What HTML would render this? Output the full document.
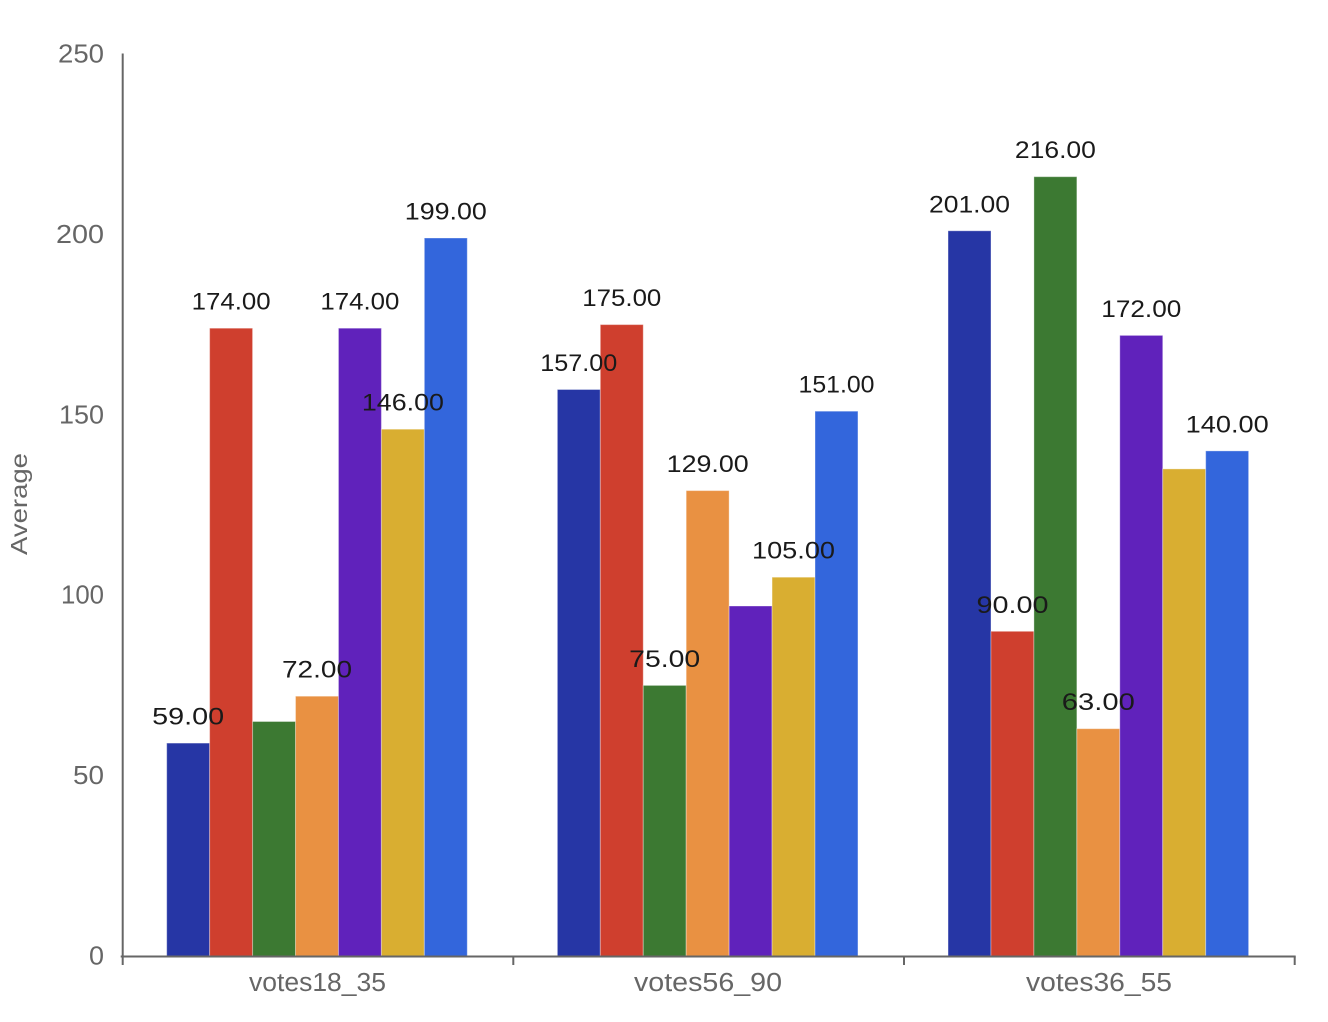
<!DOCTYPE html>
<html><head><meta charset="utf-8"><style>
html,body{margin:0;padding:0;background:#fff;}
svg{display:block;}
.v{font-family:"Liberation Sans",sans-serif;font-size:24px;fill:#1a1a1a;text-anchor:middle;}
.t{font-family:"Liberation Sans",sans-serif;font-size:25.5px;fill:#666;text-anchor:end;}
.c{font-family:"Liberation Sans",sans-serif;font-size:25.5px;fill:#666;text-anchor:middle;}
</style></head><body>
<svg width="1328" height="1022" viewBox="0 0 1328 1022" xmlns="http://www.w3.org/2000/svg">
<rect width="1328" height="1022" fill="#fff"/>
<g stroke="rgba(255,255,255,0.35)" stroke-width="1">
<rect x="166.7" y="743.1" width="42.94" height="212.9" fill="#2636a5"/>
<rect x="209.64" y="328.2" width="42.94" height="627.8" fill="#cf3f2e"/>
<rect x="252.58" y="721.5" width="42.94" height="234.5" fill="#3c7932"/>
<rect x="295.52" y="696.2" width="42.94" height="259.8" fill="#e99142"/>
<rect x="338.46" y="328.2" width="42.94" height="627.8" fill="#6022bb"/>
<rect x="381.4" y="429.2" width="42.94" height="526.8" fill="#d9ae31"/>
<rect x="424.34" y="238.0" width="42.94" height="718.0" fill="#3366dc"/>
<rect x="557.37" y="389.5" width="42.94" height="566.5" fill="#2636a5"/>
<rect x="600.31" y="324.6" width="42.94" height="631.4" fill="#cf3f2e"/>
<rect x="643.25" y="685.4" width="42.94" height="270.6" fill="#3c7932"/>
<rect x="686.19" y="490.6" width="42.94" height="465.4" fill="#e99142"/>
<rect x="729.13" y="606.0" width="42.94" height="350.0" fill="#6022bb"/>
<rect x="772.07" y="577.2" width="42.94" height="378.8" fill="#d9ae31"/>
<rect x="815.01" y="411.2" width="42.94" height="544.8" fill="#3366dc"/>
<rect x="948.04" y="230.8" width="42.94" height="725.2" fill="#2636a5"/>
<rect x="990.98" y="631.3" width="42.94" height="324.7" fill="#cf3f2e"/>
<rect x="1033.92" y="176.7" width="42.94" height="779.3" fill="#3c7932"/>
<rect x="1076.86" y="728.7" width="42.94" height="227.3" fill="#e99142"/>
<rect x="1119.8" y="335.4" width="42.94" height="620.6" fill="#6022bb"/>
<rect x="1162.74" y="468.9" width="42.94" height="487.1" fill="#d9ae31"/>
<rect x="1205.68" y="450.9" width="42.94" height="505.1" fill="#3366dc"/>
</g>
<g stroke="#666" stroke-width="2" fill="none">
<line x1="122.7" y1="53.5" x2="122.7" y2="965"/>
<line x1="120.7" y1="956.5" x2="1295.7" y2="956.5"/>
<line x1="513.3" y1="956.5" x2="513.3" y2="965"/>
<line x1="904" y1="956.5" x2="904" y2="965"/>
<line x1="1294.7" y1="956.5" x2="1294.7" y2="965"/>
</g>
<text class="t" x="104" y="62.5" textLength="46" lengthAdjust="spacingAndGlyphs">250</text>
<text class="t" x="104" y="242.9" textLength="48" lengthAdjust="spacingAndGlyphs">200</text>
<text class="t" x="104" y="423.3" textLength="45" lengthAdjust="spacingAndGlyphs">150</text>
<text class="t" x="104" y="603.7" textLength="43" lengthAdjust="spacingAndGlyphs">100</text>
<text class="t" x="104" y="784.1" textLength="31" lengthAdjust="spacingAndGlyphs">50</text>
<text class="t" x="104" y="964.5" textLength="15" lengthAdjust="spacingAndGlyphs">0</text>
<text transform="translate(27,504) rotate(-90)" x="0" y="0" style="font-family:'Liberation Sans',sans-serif;font-size:23px;fill:#666;text-anchor:middle;" textLength="102" lengthAdjust="spacingAndGlyphs">Average</text>
<text class="c" x="317.5" y="991" textLength="137" lengthAdjust="spacingAndGlyphs">votes18_35</text>
<text class="c" x="708" y="991" textLength="148" lengthAdjust="spacingAndGlyphs">votes56_90</text>
<text class="c" x="1099" y="991" textLength="146" lengthAdjust="spacingAndGlyphs">votes36_55</text>
<text class="v" x="188.2" y="724.6" textLength="72" lengthAdjust="spacingAndGlyphs">59.00</text>
<text class="v" x="231.1" y="309.7" textLength="79" lengthAdjust="spacingAndGlyphs">174.00</text>
<text class="v" x="317.0" y="677.7" textLength="70" lengthAdjust="spacingAndGlyphs">72.00</text>
<text class="v" x="359.9" y="309.7" textLength="79" lengthAdjust="spacingAndGlyphs">174.00</text>
<text class="v" x="402.9" y="410.7" textLength="82" lengthAdjust="spacingAndGlyphs">146.00</text>
<text class="v" x="445.8" y="219.5" textLength="82" lengthAdjust="spacingAndGlyphs">199.00</text>
<text class="v" x="578.8" y="371" textLength="77" lengthAdjust="spacingAndGlyphs">157.00</text>
<text class="v" x="621.8" y="306.1" textLength="79" lengthAdjust="spacingAndGlyphs">175.00</text>
<text class="v" x="664.7" y="666.9" textLength="71" lengthAdjust="spacingAndGlyphs">75.00</text>
<text class="v" x="707.7" y="472.1" textLength="82" lengthAdjust="spacingAndGlyphs">129.00</text>
<text class="v" x="793.5" y="558.7" textLength="83" lengthAdjust="spacingAndGlyphs">105.00</text>
<text class="v" x="836.5" y="392.7" textLength="76" lengthAdjust="spacingAndGlyphs">151.00</text>
<text class="v" x="969.5" y="212.3" textLength="81" lengthAdjust="spacingAndGlyphs">201.00</text>
<text class="v" x="1012.5" y="612.8" textLength="72" lengthAdjust="spacingAndGlyphs">90.00</text>
<text class="v" x="1055.4" y="158.2" textLength="81" lengthAdjust="spacingAndGlyphs">216.00</text>
<text class="v" x="1098.3" y="710.2" textLength="73" lengthAdjust="spacingAndGlyphs">63.00</text>
<text class="v" x="1141.3" y="316.9" textLength="80" lengthAdjust="spacingAndGlyphs">172.00</text>
<text class="v" x="1227.2" y="432.4" textLength="83" lengthAdjust="spacingAndGlyphs">140.00</text>
</svg>
</body></html>
